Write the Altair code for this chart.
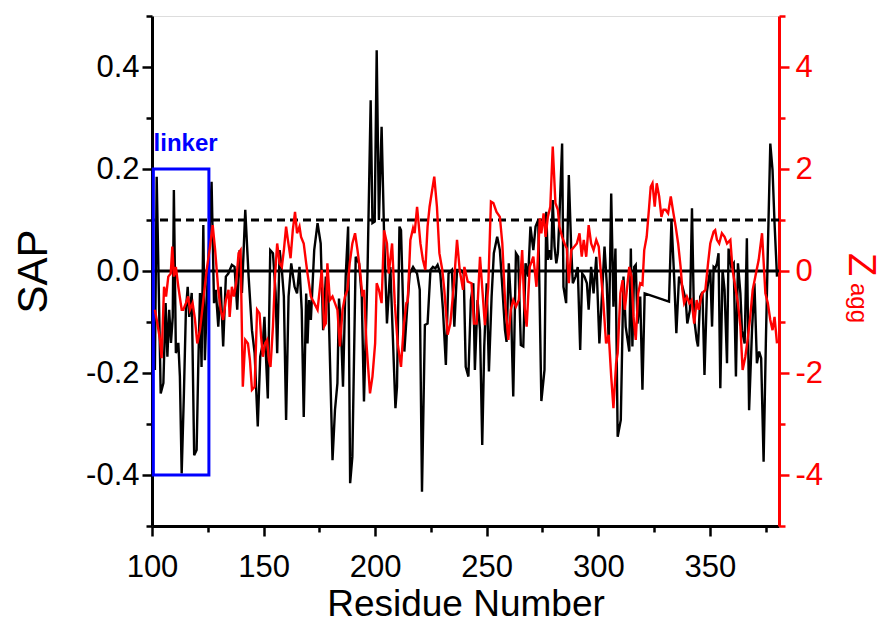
import altair as alt
import pandas as pd

# ---- SAP (black) ----
sap_res = [101.3,102.1,103.9,105.1,106.1,106.9,107.7,108.5,109.3,109.8,110.7,111.8,112.5,113.3,114.3,115.2,116.0,116.7,117.8,118.9,
           120.0,120.7,121.5,122.2,123.0,123.7,124.8,126.7,127.8,128.6,129.7,130.8,131.9,133.1,134.2,135.8,137.0,138.2,139.3,140.3,
           141.8,143.3,144.8,146.0,147.4,148.5,149.7,150.4,151.2,151.9,153.0,154.2,155.4,156.1,157.2,158.2,159.1,160.1,161.2,162.4,
           163.9,165.0,166.1,167.1,168.0,169.1,169.7,170.4,171.2,172.7,174.2,175.6,176.7,177.9,179.1,180.9,182.0,183.1,183.8,184.6,
           185.6,186.8,187.9,188.8,189.8,191.3,192.8,194.0,195.0,196.6,198.0,198.8,199.8,200.7,201.7,202.9,204.0,205.3,206.8,209.1,
           209.8,210.9,211.6,213.1,214.3,215.5,217.0,218.8,220.0,221.0,222.3,223.5,224.8,225.9,227.0,228.0,229.2,230.4,231.7,232.9,
           234.4,235.5,236.7,238.2,239.7,240.6,241.8,242.9,244.0,244.7,245.9,247.0,248.0,248.9,250.0,251.0,252.2,253.2,254.7,255.9,
           257.0,258.2,258.9,259.9,260.8,261.9,263.1,264.1,265.3,266.4,267.4,268.6,269.6,270.9,271.9,273.1,274.5,275.9,276.7,277.4,
           278.2,278.9,279.6,280.4,281.2,281.9,282.6,283.8,284.4,285.6,286.8,287.9,288.6,289.8,290.8,291.9,292.8,293.8,294.9,295.7,
           296.8,297.9,299.1,300.5,301.7,302.8,303.8,304.7,305.8,306.8,307.7,308.7,310.1,311.3,312.3,313.9,314.6,315.3,316.1,316.8,
           317.6,318.8,319.8,320.8,331.7,332.8,334.0,335.0,336.2,336.9,338.1,339.2,339.9,341.1,342.0,342.9,344.1,344.7,345.7,346.7,
           347.6,348.7,349.4,350.2,351.0,351.7,352.4,353.2,353.9,354.7,355.7,356.6,357.7,358.4,359.6,360.7,361.7,362.6,363.7,364.4,
           365.6,366.6,367.6,368.9,370.0,371.1,372.1,373.0,374.1,375.1,376.0,377.1,378.1,379.0,380.1]
sap_val = [-0.194,0.185,-0.240,-0.220,-0.063,-0.168,-0.076,-0.141,-0.090,0.159,-0.161,-0.141,-0.207,-0.397,-0.240,-0.076,-0.031,-0.090,-0.043,-0.361,
           -0.351,-0.194,-0.043,-0.188,0.090,-0.175,-0.031,0.175,-0.063,-0.037,-0.109,-0.031,-0.148,-0.011,-0.005,0.012,0.008,-0.076,0.041,-0.043,
           0.120,-0.011,-0.116,-0.161,-0.305,-0.168,-0.141,-0.090,-0.181,-0.250,0.041,0.035,-0.043,-0.161,0.041,0.002,-0.050,-0.292,-0.050,0.015,
           -0.031,-0.044,0.008,-0.076,-0.286,-0.044,-0.142,-0.057,-0.096,0.041,0.094,0.054,-0.116,-0.011,-0.063,-0.371,-0.273,-0.220,-0.054,-0.103,
           -0.227,-0.011,0.087,-0.416,-0.364,0.028,0.015,-0.050,-0.256,0.002,0.335,0.094,0.097,0.433,0.100,0.283,0.074,-0.103,0.008,-0.269,
           -0.227,0.087,0.080,-0.158,-0.076,-0.005,0.008,-0.005,-0.037,-0.433,-0.106,-0.103,0.002,0.008,0.005,0.012,-0.005,-0.076,-0.184,-0.005,
           0.002,-0.109,0.002,0.002,-0.005,-0.188,-0.207,-0.057,-0.024,-0.194,-0.057,-0.116,-0.341,-0.148,-0.024,-0.197,-0.050,0.035,0.067,0.041,
           -0.031,-0.116,-0.139,0.015,-0.057,-0.246,0.035,0.028,-0.145,-0.148,0.015,-0.011,0.087,0.041,0.087,0.100,-0.255,-0.194,0.116,0.022,
           0.041,0.022,0.139,0.048,0.015,0.035,0.106,0.250,-0.031,-0.063,0.188,0.041,-0.024,-0.011,0.008,-0.155,-0.005,-0.011,-0.024,-0.076,
           0.008,-0.044,0.028,-0.142,-0.044,0.048,-0.024,-0.142,0.152,-0.070,0.044,-0.325,-0.292,-0.011,-0.109,-0.158,0.044,-0.148,0.008,0.012,
           -0.103,-0.050,-0.233,-0.044,-0.060,0.100,-0.011,-0.122,-0.011,-0.018,-0.037,-0.057,-0.103,-0.076,0.123,-0.090,-0.135,-0.148,-0.050,-0.041,
           -0.204,-0.041,-0.018,0.002,-0.109,0.008,0.005,0.015,0.035,-0.230,0.002,-0.037,-0.181,0.044,0.008,0.015,-0.207,0.015,-0.044,-0.116,
           -0.142,0.064,-0.273,-0.116,-0.024,-0.181,-0.158,-0.171,-0.374,-0.142,0.041,0.250,0.198,0.094,-0.011]

# ---- Zagg (red) ----
z_res = [101.3,102.4,103.6,104.3,105.4,106.3,107.3,108.4,109.1,109.8,110.7,111.8,113.3,114.0,115.2,116.2,117.0,118.2,119.2,120.3,
         121.5,123.0,124.5,126.0,127.2,128.3,129.7,130.8,131.9,133.1,134.3,134.8,135.8,136.7,137.7,138.8,139.7,140.7,141.8,143.0,
         143.9,144.8,146.0,147.1,148.2,148.9,149.7,150.7,151.6,152.4,153.1,154.2,155.2,156.1,157.2,158.2,159.1,160.1,160.9,162.1,
         163.1,164.1,165.0,166.1,166.8,168.0,169.1,169.7,171.2,172.7,174.2,176.1,177.1,177.9,178.6,179.7,180.9,182.0,183.1,184.2,
         185.4,186.5,187.6,188.6,189.8,191.0,192.1,193.2,194.3,195.0,196.1,197.7,198.8,200.0,200.7,201.7,202.9,204.0,205.3,206.1,
         207.6,208.8,210.1,211.6,212.8,214.0,214.6,215.8,217.0,217.7,218.8,220.3,221.4,222.5,223.5,224.4,226.5,227.7,228.8,230.1,
         231.0,232.5,233.7,235.2,236.7,237.9,239.4,240.0,241.5,243.2,244.3,245.5,247.0,249.2,250.7,251.9,253.0,254.4,255.9,257.0,
         258.2,259.7,260.8,261.9,263.1,264.4,265.9,266.8,267.9,269.3,270.9,272.3,273.8,274.5,275.5,276.4,277.4,278.5,279.6,280.8,
         281.9,282.6,283.8,284.9,285.9,286.8,287.9,289.3,290.4,291.6,292.6,293.5,294.6,295.7,296.8,297.9,299.1,300.2,301.3,302.3,
         303.5,304.7,305.8,306.8,308.0,308.7,309.9,310.9,311.9,313.9,314.9,315.8,316.8,317.9,318.8,319.8,320.6,321.7,322.8,323.5,
         324.3,325.3,326.2,327.3,328.3,329.2,330.2,331.3,332.5,333.7,334.7,335.8,336.9,337.7,338.5,339.7,340.8,341.8,343.0,344.1,
         345.0,346.5,348.0,349.2,350.2,351.7,352.4,353.2,354.2,355.4,356.6,357.7,359.2,360.2,361.4,362.6,363.7,364.7,365.9,367.1,
         368.1,369.2,370.4,371.9,373.4,374.9,376.0,377.1,378.1,379.0,380.1]
z_val = [-0.76,-1.03,-1.35,-1.71,-0.31,-0.50,-0.11,-0.05,0.48,-0.11,0.08,-0.31,-0.76,-0.76,-0.63,-0.50,-0.76,-0.63,-0.93,-1.42,
         -1.16,-0.57,0.02,0.48,0.90,0.41,-0.37,-0.76,-0.96,-0.57,-0.37,-0.90,-0.31,-0.50,-0.24,0.35,0.41,-2.27,-1.35,-1.42,
         -1.75,-2.33,-2.27,-0.76,-0.83,-1.29,-1.68,-1.42,-1.35,-1.75,-1.88,-1.09,-0.05,0.54,0.15,0.08,0.41,0.87,0.61,0.25,
         0.80,1.16,0.74,0.87,0.67,0.54,0.15,-0.05,-0.50,-0.63,-0.76,0.02,-1.09,-1.03,0.15,-0.57,-0.50,-0.63,-0.76,-1.48,
         -0.76,-0.50,-0.37,0.15,0.54,0.74,0.41,0.02,-0.50,-0.37,-1.42,-2.40,-2.07,-1.42,-0.24,-0.37,-0.63,0.80,0.54,-0.05,
         0.54,-0.63,-1.42,-1.88,-1.09,-0.63,-0.60,0.61,0.84,0.74,1.26,0.54,0.22,0.02,0.87,1.26,1.85,1.26,0.35,0.02,
         -0.37,-1.25,-1.03,-0.31,0.61,0.02,-0.37,0.08,-0.21,-0.24,-1.03,-1.03,0.28,-1.06,-0.31,1.36,1.33,1.16,1.06,0.54,
         -0.57,-1.35,-0.76,-0.57,-0.70,-0.57,0.41,-0.63,-1.09,0.08,0.28,-0.31,1.03,0.74,1.13,0.67,1.06,1.26,2.44,1.33,
         1.20,0.87,0.67,0.54,0.44,-0.24,0.41,0.48,0.54,0.74,0.28,0.61,0.28,0.90,0.54,0.41,0.61,0.48,-0.11,-0.63,
         -1.42,-1.25,-2.07,-2.69,-1.81,-1.61,-0.44,-0.18,-0.76,0.08,-0.11,-0.90,-1.35,-0.44,-0.24,-0.27,0.41,0.67,1.26,1.65,
         1.72,1.26,1.72,1.46,1.06,1.20,1.20,1.13,1.46,1.13,0.87,0.54,0.08,-0.37,-0.63,-0.50,-0.63,-0.57,-1.03,-0.57,
         -0.76,-0.44,-0.37,0.15,0.54,0.77,0.80,0.61,0.54,0.74,0.67,0.54,0.61,0.02,-0.31,-0.63,-1.09,-1.94,-1.68,-1.29,
         -0.90,-0.37,-0.11,0.22,0.74,-0.44,-0.63,-0.96,-1.16,-0.90,-1.42]

zero_level = [0.0]
threshold_level = [0.1]
linker_res = [100.6]
linker_res2 = [125.5]
linker_sap = [-0.4]
linker_sap2 = [0.2]
linker_label = ["linker"]
linker_label_res = [100.7]
linker_label_sap = [0.235]

FONT = "Liberation Sans"

df_sap = pd.DataFrame({"res": sap_res, "sap": sap_val})
df_z = pd.DataFrame({"res": z_res, "z": z_val})
df_zero = pd.DataFrame({"sap": zero_level})
df_thr = pd.DataFrame({"sap": threshold_level})
df_box = pd.DataFrame({"res": linker_res, "res2": linker_res2, "sap": linker_sap, "sap2": linker_sap2})
df_lab = pd.DataFrame({"res": linker_label_res, "sap": linker_label_sap, "t": linker_label})
df_one = pd.DataFrame({"a": [0]})

xscale = alt.Scale(domain=[100, 381], nice=False, zero=False)
yscale = alt.Scale(domain=[-0.5, 0.5], nice=False, zero=False)
zscale = alt.Scale(domain=[-5, 5], nice=False, zero=False)

xax = alt.Axis(
    values=list(range(100, 376, 25)),
    labelExpr="datum.value % 50 == 0 ? format(datum.value, 'd') : ''",
    tickSize={"condition": {"test": "datum.value % 50 == 0", "value": 10}, "value": 6},
    title="Residue Number", titleFontSize=37, titleFont=FONT, titleFontWeight="normal",
    titleY=78, titleBaseline="middle", titleColor="black",
    labelFontSize=31, labelFont=FONT, labelColor="black", labelPadding=16, labelFlush=False,
    domainColor="black", domainWidth=3, tickColor="black", tickWidth=2.5, grid=False,
    labelOverlap=False,
)
yax = alt.Axis(
    values=[-0.5, -0.4, -0.3, -0.2, -0.1, 0, 0.1, 0.2, 0.3, 0.4, 0.5],
    labelExpr="abs(round(datum.value*10)) % 2 == 0 ? (datum.value < 0 ? '-' : '') + format(abs(datum.value), '.1f') : ''",
    tickSize={"condition": {"test": "abs(round(datum.value*10)) % 2 == 0", "value": 10}, "value": 6},
    title="SAP", titleFontSize=42, titleFont=FONT, titleFontWeight="normal", titleColor="black",
    titleX=-119, titleY=255, titleAngle=270, titleAlign="center", titleBaseline="middle",
    labelFontSize=31, labelFont=FONT, labelColor="black", labelPadding=3, labelFlush=False,
    domainColor="black", domainWidth=3, tickColor="black", tickWidth=2.5, grid=False,
    labelOverlap=False,
)
zax = alt.Axis(
    orient="right",
    values=[-5, -4, -3, -2, -1, 0, 1, 2, 3, 4, 5],
    labelExpr="abs(datum.value) % 2 == 0 ? (datum.value < 0 ? '-' : '') + format(abs(datum.value), 'd') : ''",
    tickSize={"condition": {"test": "abs(datum.value) % 2 == 0", "value": 10}, "value": 6},
    title="Z", titleFontSize=38, titleFont=FONT, titleFontWeight="normal", titleColor="#ff0000",
    titleX=80, titleY=248, titleAngle=90, titleAlign="center", titleBaseline="middle",
    labelFontSize=31, labelFont=FONT, labelColor="#ff0000", labelPadding=6, labelFlush=False,
    domainColor="#ff0000", domainWidth=3, tickColor="#ff0000", tickWidth=2.5, grid=False,
    labelOverlap=False,
)

X = alt.X("res:Q", scale=xscale, axis=xax)
Y = alt.Y("sap:Q", scale=yscale, axis=yax)

black = alt.Chart(df_sap).mark_line(color="black", strokeWidth=2.4, clip=True).encode(x=X, y=Y)
zero = alt.Chart(df_zero).mark_rule(color="black", strokeWidth=3).encode(y=Y)
thr = alt.Chart(df_thr).mark_rule(color="black", strokeWidth=3, strokeDash=[8, 5]).encode(y=Y)
box = alt.Chart(df_box).mark_rect(fillOpacity=0, stroke="#0000ff", strokeWidth=3).encode(
    x=X, x2="res2:Q", y=Y, y2="sap2:Q")
lab = alt.Chart(df_lab).mark_text(
    align="left", baseline="alphabetic", font=FONT, fontSize=24, fontWeight="bold", color="#0000ff"
).encode(x=X, y=Y, text="t:N")
sub = alt.Chart(df_one).mark_text(
    font=FONT, fontSize=24, color="#ff0000", angle=90, align="center", baseline="middle"
).encode(x=alt.value(706), y=alt.value(287), text=alt.value("agg"))

left = alt.layer(black, zero, thr, box, lab, sub)

red = alt.Chart(df_z).mark_line(color="#ff0000", strokeWidth=2.4, clip=True).encode(
    x=X, y=alt.Y("z:Q", scale=zscale, axis=zax))

chart = alt.layer(left, red).resolve_scale(y="independent").properties(
    width=627, height=510,
    autosize=alt.AutoSizeParams(type="none"),
    padding={"left": 144, "top": 8, "right": 102, "bottom": 101},
).configure_view(stroke="black", strokeWidth=3).configure(background="white")

chart.save("out.html", embed_options={"renderer": "svg", "actions": False})
